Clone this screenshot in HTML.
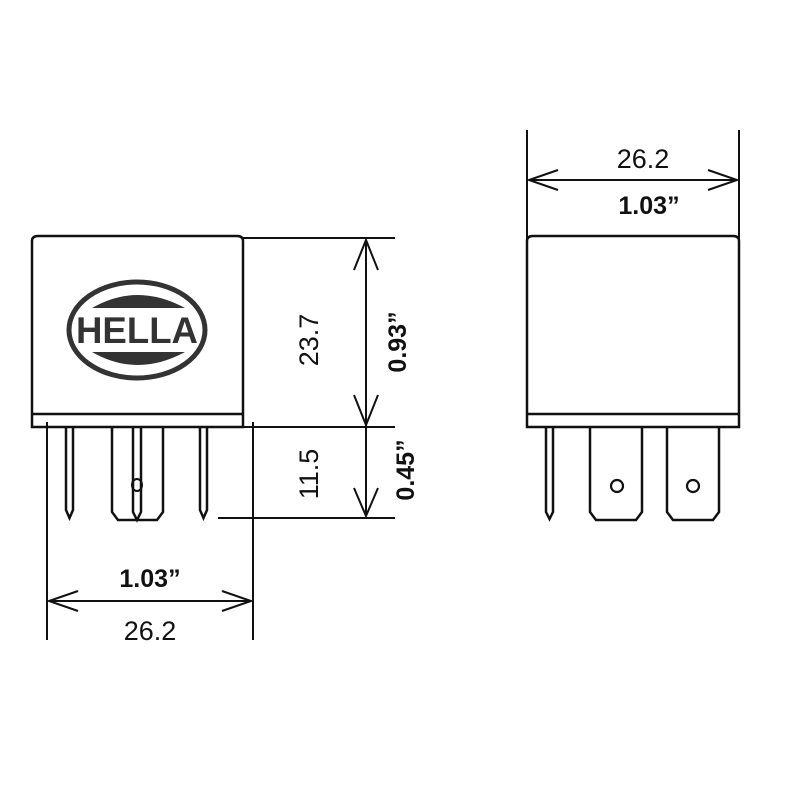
<!DOCTYPE html>
<html><head><style>html,body{margin:0;padding:0;background:#fff}svg{display:block}</style></head>
<body>
<svg width="800" height="800" viewBox="0 0 800 800" xmlns="http://www.w3.org/2000/svg" font-family="Liberation Sans, sans-serif">
<g fill="none" stroke="#111" stroke-width="2.5">
<!-- left relay -->
<path d="M32 427 V241 Q32 236 38 236 H237 Q243 236 243 241 V427 Z"/>
<line x1="32" y1="414" x2="243" y2="414"/>
<path d="M66 428 V510 L69.5 518 L73 510 V428"/>
<path d="M200 428 V510 L203.5 518 L207 510 V428"/>
<path d="M112 428 V512 L118 520 H157 L163 512 V428"/>
<path d="M133 428 V512 L137 520 L141 512 V428"/>
<ellipse cx="137" cy="485" rx="5" ry="6" stroke-width="2"/>
<!-- right relay -->
<path d="M527 427 V241 Q527 236 533 236 H733 Q739 236 739 241 V427 Z"/>
<line x1="527" y1="414" x2="739" y2="414"/>
<path d="M546 428 V512 L549.5 519 L553 512 V428"/>
<path d="M590 428 V512 L596 520 H636 L642 512 V428"/>
<path d="M667 428 V512 L673 520 H713 L719 512 V428"/>
<circle cx="617" cy="486" r="6" stroke-width="2.2"/>
<circle cx="693" cy="486" r="6" stroke-width="2.2"/>
</g>
<g fill="none" stroke="#111" stroke-width="2">
<!-- left horiz dim -->
<line x1="47" y1="422" x2="47" y2="640"/>
<line x1="253" y1="422" x2="253" y2="640"/>
<line x1="49" y1="601" x2="251" y2="601"/>
<path d="M78 591 L49 601 L78 611 M222 591 L251 601 L222 611"/>
<!-- vertical dims -->
<line x1="243" y1="238" x2="395" y2="238"/>
<line x1="243" y1="427" x2="395" y2="427"/>
<line x1="218" y1="518" x2="395" y2="518"/>
<line x1="366" y1="240" x2="366" y2="516"/>
<path d="M354 270 L366 240 L378 270 M354 395 L366 425 L378 395 M354 488 L366 516 L378 488"/>
<!-- right top dim -->
<line x1="527" y1="130" x2="527" y2="290"/>
<line x1="739" y1="130" x2="739" y2="290"/>
<line x1="529" y1="180" x2="737" y2="180"/>
<path d="M558 170 L529 180 L558 190 M708 170 L737 180 L708 190"/>
</g>
<!-- logo -->
<ellipse cx="137" cy="330" rx="68" ry="48" fill="none" stroke="#333" stroke-width="5"/>
<path d="M92 308 Q137 282 185 308 Z" fill="#333"/>
<path d="M92 352 Q137 378 185 352 Z" fill="#333"/>
<text x="137" y="343" text-anchor="middle" font-size="37" font-weight="bold" fill="#333" textLength="122" lengthAdjust="spacingAndGlyphs">HELLA</text>
<!-- labels -->
<g fill="#111" font-size="27">
<text x="150" y="587" text-anchor="middle" font-weight="bold" font-size="25">1.03”</text>
<text x="150" y="640" text-anchor="middle">26.2</text>
<text x="643" y="168" text-anchor="middle">26.2</text>
<text x="649" y="214" text-anchor="middle" font-weight="bold" font-size="25">1.03”</text>
<text transform="translate(318 340) rotate(-90)" text-anchor="middle">23.7</text>
<text transform="translate(406 342) rotate(-90)" text-anchor="middle" font-weight="bold" font-size="25">0.93”</text>
<text transform="translate(318 474) rotate(-90)" text-anchor="middle">11.5</text>
<text transform="translate(414 470) rotate(-90)" text-anchor="middle" font-weight="bold" font-size="25">0.45”</text>
</g>
</svg>
</body></html>
